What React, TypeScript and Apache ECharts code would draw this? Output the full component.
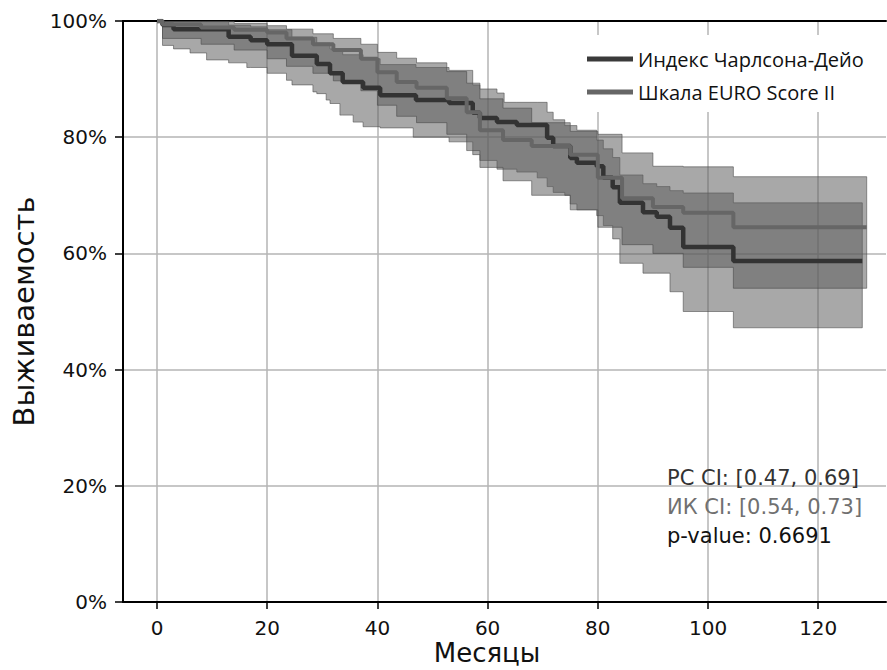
import React, { useEffect, useRef } from 'react';
import * as echarts from 'echarts';

const xTicks = [0, 20, 40, 60, 80, 100, 120];

// Индекс Чарлсона-Дейо (months, survival %, CI low %, CI high %)
const chTime = [0, 1, 3, 6, 9, 13, 16.3, 17, 20, 23.5, 24.5, 28.3, 29, 30.7, 31.4, 33.2, 33.7, 35.6, 37.4, 40.5, 46.5, 47, 53, 57.3, 58.6, 61.7, 63, 65.3, 69, 70.8, 71.9, 74, 75, 76.2, 79.8, 81, 82.7, 84, 88.2, 90.7, 93.1, 95.5, 104.6, 128];
const chSurv = [100, 99.3, 98.6, 98.6, 98.6, 97.3, 97.3, 96.7, 96.0, 96.0, 94.0, 94.0, 92.6, 92.6, 91.0, 91.0, 89.5, 89.5, 88.5, 87.2, 87.2, 86.4, 85.9, 84.2, 83.3, 82.6, 82.6, 82.1, 82.1, 79.9, 78.5, 78.5, 76.4, 75.6, 75.0, 73.0, 71.4, 68.7, 67.1, 66.3, 64.4, 61.1, 58.7, 58.7];
const chLow = [100, 95.8, 95.2, 94.5, 93.3, 92.8, 92.0, 92.0, 91.0, 89.8, 89.0, 87.8, 87.5, 86.4, 85.8, 83.8, 83.8, 82.6, 81.8, 81.6, 80.0, 80.0, 79.2, 77.0, 76.0, 74.5, 74.5, 74.0, 73.0, 71.5, 70.5, 70.0, 68.5, 67.5, 66.5, 64.8, 62.5, 58.3, 56.6, 56.6, 53.4, 50.0, 47.2, 47.2];
const chHigh = [100, 100, 99.9, 99.9, 99.9, 99.3, 99.3, 99.0, 98.5, 98.5, 97.2, 97.2, 96.2, 96.2, 95.2, 95.2, 94.2, 94.2, 93.5, 92.5, 92.5, 92.0, 91.5, 89.0, 88.3, 87.6, 86.0, 86.0, 86.0, 84.3, 83.0, 82.0, 82.0, 81.2, 79.5, 78.0, 76.5, 73.5, 72.0, 71.5, 70.8, 70.4, 68.7, 68.7];

// Шкала EURO Score II
const euTime = [0, 1, 8, 14, 20, 23.5, 28.3, 32, 37, 40, 43.5, 47.1, 52.6, 56.2, 58.6, 62.8, 68, 75, 80, 84.4, 90, 95.5, 104.6, 128.8];
const euSurv = [100, 99.4, 98.9, 98.5, 98.0, 97.0, 96.0, 95.0, 93.5, 91.2, 89.5, 88.5, 86.7, 84.3, 81.2, 79.5, 78.5, 77.0, 73.0, 69.5, 68.0, 67.0, 64.5, 64.5];
const euLow = [100, 97.0, 96.0, 95.0, 93.5, 92.2, 91.0, 89.7, 88.0, 85.5, 83.6, 82.5, 80.5, 77.7, 74.8, 72.5, 70.0, 67.5, 64.5, 61.5, 60.0, 57.6, 54.0, 54.0];
const euHigh = [100, 100, 100, 99.6, 99.2, 98.6, 97.8, 97.0, 96.0, 94.6, 93.6, 92.8, 91.3, 89.3, 86.6, 85.0, 82.5, 81.0, 80.5, 77.3, 75.0, 74.9, 73.2, 73.2];

const seriesNames = ['Индекс Чарлсона-Дейо', 'Шкала EURO Score II'];
const annotations = ['PC CI: [0.47, 0.69]', 'ИК CI: [0.54, 0.73]', 'p-value: 0.6691'];

const BAND_FILL = 'rgba(94,94,94,0.54)';
const BAND_EDGE = 'rgba(70,70,70,0.55)';

function pairs(t: number[], v: number[]) {
  return t.map((x, i) => [x, v[i]]);
}

function bandSeries(name: string, t: number[], lo: number[], hi: number[]) {
  return {
    type: 'custom',
    name,
    silent: true,
    z: 1,
    clip: true,
    encode: { x: 0, y: [1, 2] },
    data: t.map((x, i) => [x, lo[i], hi[i]]),
    renderItem: (params: any, api: any) => {
      if (params.dataIndex !== 0) return null;
      const pts: number[][] = [];
      const n = t.length;
      for (let i = 0; i < n; i++) {
        pts.push(api.coord([t[i], hi[i]]));
        if (i < n - 1) pts.push(api.coord([t[i + 1], hi[i]]));
      }
      for (let i = n - 1; i >= 0; i--) {
        if (i < n - 1) pts.push(api.coord([t[i + 1], lo[i]]));
        pts.push(api.coord([t[i], lo[i]]));
      }
      return {
        type: 'polygon',
        shape: { points: pts },
        style: { fill: BAND_FILL, stroke: BAND_EDGE, lineWidth: 1 },
      };
    },
  };
}

export default function App() {
  const ref = useRef<HTMLDivElement>(null);
  useEffect(() => {
    if (!ref.current) return;
    const chart = echarts.init(ref.current, null, { renderer: 'svg' });
    const option: any = {
      animation: false,
      grid: { left: 123, right: 1, top: 21, bottom: 68, containLabel: false, outerBoundsMode: 'none' },
      legend: {
        data: seriesNames,
        left: 582, top: 35,
        orient: 'vertical',
        icon: 'rect', itemWidth: 46, itemHeight: 5, itemGap: 11,
        padding: [13, 12, 9, 5],
        backgroundColor: '#ffffff',
        textStyle: { fontFamily: 'Open Sans', fontSize: 20, color: '#111', lineHeight: 22 },
      },
      xAxis: [
        {
          type: 'value', min: -6.17, max: 132.3, splitNumber: 7,
          axisLine: { show: true, onZero: false, lineStyle: { color: '#000', width: 2 } },
          axisTick: { show: true, length: 7, lineStyle: { color: '#000', width: 1.5 }, customValues: xTicks },
          axisLabel: {
            fontFamily: 'DejaVu Sans', fontSize: 20, color: '#111', margin: 16,
            customValues: xTicks,
          },
          splitLine: { show: true, lineStyle: { color: '#b4b4b4', width: 1.5 } },
          name: 'Месяцы', nameLocation: 'middle', nameGap: 38, nameMoveOverlap: false,
          nameTextStyle: {
            fontFamily: 'DejaVu Sans', fontSize: 26, lineHeight: 26, color: '#111',
            padding: [0, 35, 0, 0],
          },
        },
        {
          type: 'value', min: -6.17, max: 132.3, position: 'top',
          axisLine: { show: true, onZero: false, lineStyle: { color: '#000', width: 2 } },
          axisTick: { show: false }, axisLabel: { show: false }, splitLine: { show: false },
        },
      ],
      yAxis: {
        type: 'value', min: 0, max: 100, interval: 20,
        axisLine: { show: true, onZero: false, lineStyle: { color: '#000', width: 2 } },
        axisTick: { show: true, length: 8, lineStyle: { color: '#000', width: 1.5 } },
        axisLabel: { fontFamily: 'DejaVu Sans', fontSize: 20, color: '#111', margin: 16, formatter: '{value}%' },
        splitLine: { show: true, lineStyle: { color: '#b4b4b4', width: 1.5 } },
        name: 'Выживаемость', nameLocation: 'middle', nameGap: 84,
        nameTextStyle: { fontFamily: 'DejaVu Sans', fontSize: 29, color: '#111' },
      },
      series: [
        bandSeries('РС CI band', chTime, chLow, chHigh),
        bandSeries('ИК CI band', euTime, euLow, euHigh),
        {
          name: seriesNames[0], type: 'line', step: 'end', data: pairs(chTime, chSurv),
          showSymbol: false, symbol: 'none', color: '#3a3a3a',
          lineStyle: { color: '#333333', width: 4.5 }, z: 3,
        },
        {
          name: seriesNames[1], type: 'line', step: 'end', data: pairs(euTime, euSurv),
          showSymbol: false, symbol: 'none', color: '#666666',
          lineStyle: { color: '#666666', width: 4 }, z: 4,
        },
      ],
      graphic: annotations.map((text, i) => ({
        type: 'text', x: 667, y: 478 + i * 29, z: 10,
        style: {
          text, fontFamily: 'DejaVu Sans', fontSize: 21, verticalAlign: 'middle',
          fill: i === 0 ? '#333333' : i === 1 ? '#707070' : '#111111',
        },
      })),
    };
    chart.setOption(option);
    return () => chart.dispose();
  }, []);
  return <div ref={ref} style={{ width: 887, height: 670, position: 'absolute', left: 0, top: 0 }} />;
}
